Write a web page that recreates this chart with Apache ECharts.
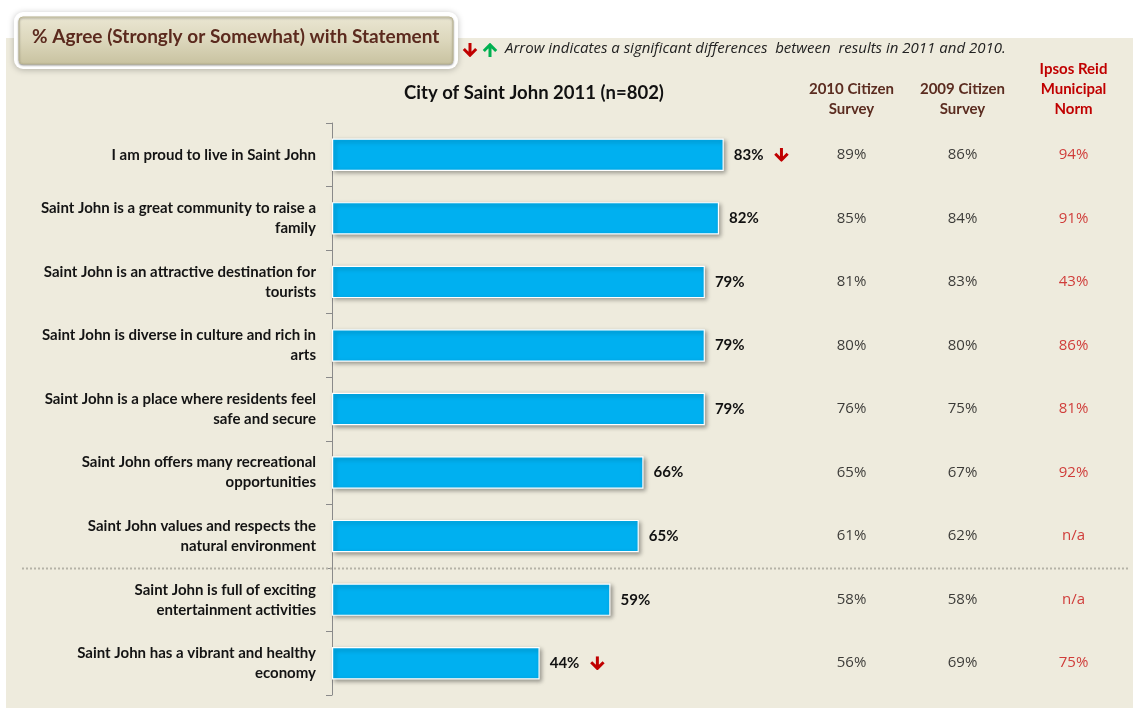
<!DOCTYPE html>
<html>
<head>
<meta charset="utf-8">
<script src="https://cdn.jsdelivr.net/npm/echarts@6/dist/echarts.min.js"></script>
<style>
  html, body { margin: 0; padding: 0; background: #ffffff; }
  #chart { width: 1133px; height: 712px; }
</style>
</head>
<body>
<div id="chart"></div>
<script>
// Survey statements (wrapped as they are shown on the axis)
const statements = [
  'I am proud to live in Saint John',
  'Saint John is a great community to raise a\nfamily',
  'Saint John is an attractive destination for\ntourists',
  'Saint John is diverse in culture and rich in\narts',
  'Saint John is a place where residents feel\nsafe and secure',
  'Saint John offers many recreational\nopportunities',
  'Saint John values and respects the\nnatural environment',
  'Saint John is full of exciting\nentertainment activities',
  'Saint John has a vibrant and healthy\neconomy'
];
// 2011 results (% agree) and significance flags vs 2010
const agree2011 = [83, 82, 79, 79, 79, 66, 65, 59, 44];
const change2011 = ['down', '', '', '', '', '', '', '', 'down'];
// Comparison columns
const survey2010 = ['89%', '85%', '81%', '80%', '76%', '65%', '61%', '58%', '56%'];
const survey2009 = ['86%', '84%', '83%', '80%', '75%', '67%', '62%', '58%', '69%'];
const municipalNorm = ['94%', '91%', '43%', '86%', '81%', '92%', 'n/a', 'n/a', '75%'];
const tableColumns = ['2010 Citizen\nSurvey', '2009 Citizen\nSurvey', 'Ipsos Reid\nMunicipal\nNorm'];
const tableColors = ['#0d0d0d', '#0d0d0d', '#C81010'];
const headerColors = ['#5B2C20', '#5B2C20', '#C00000'];
const separatorAfter = 6; // dotted rule drawn below this row

const FONT = 'Lato, "Open Sans", sans-serif';

// arrow glyphs used to flag significant changes
function arrowIcon(color, up) {
  const d = up ? 'M8 14 V2 M1.8 8 L8 1.8 L14.2 8' : 'M8 0 V12 M1.8 6 L8 12.2 L14.2 6';
  const svg = '<svg xmlns="http://www.w3.org/2000/svg" width="16" height="14" viewBox="0 0 16 14">' +
    '<path d="' + d + '" fill="none" stroke="' + color + '" stroke-width="3" stroke-linejoin="miter"/></svg>';
  return 'data:image/svg+xml;charset=utf-8,' + encodeURIComponent(svg);
}
const downRed = arrowIcon('#C00000', false);
const upGreen = arrowIcon('#00B050', true);

const chart = echarts.init(document.getElementById('chart'), null, { renderer: 'canvas' });

const tableColumnsData = [survey2010, survey2009, municipalNorm];
const tableSeries = tableColumnsData.map((col, c) => ({
  type: 'scatter',
  xAxisIndex: 1,
  yAxisIndex: 1,
  symbolSize: 0,
  silent: true,
  data: col.map((txt, r) => [c, r, txt]),
  label: {
    show: true,
    position: 'inside',
    formatter: p => p.value[2],
    fontFamily: '"Open Sans", sans-serif',
    fontSize: 15,
    color: tableColors[c]
  },
  z: 5
}));

const option = {
  backgroundColor: '#ffffff',
  animation: false,
  title: {
    text: 'City of Saint John 2011 (n=802)',
    left: 529,
    top: 79,
    textAlign: 'center',
    textStyle: { fontFamily: FONT, fontWeight: 'bold', fontSize: 18.5, color: '#111' }
  },
  graphic: [
    // beige panel
    { type: 'rect', z: -10, silent: true, shape: { x: 6, y: 38, width: 1127, height: 670 },
      style: { fill: '#EEEBDD' } },
    // title badge
    { type: 'rect', z: 10, silent: true, shape: { x: 14, y: 12, width: 444, height: 57, r: 9 },
      style: { fill: '#ffffff', shadowBlur: 6, shadowColor: 'rgba(0,0,0,0.25)', shadowOffsetY: 1 } },
    { type: 'rect', z: 11, silent: true, shape: { x: 19, y: 17, width: 434, height: 47, r: 4 },
      style: {
        fill: new echarts.graphic.LinearGradient(0, 0, 0, 1, [
          { offset: 0, color: '#EAE6D2' },
          { offset: 0.5, color: '#DCD7BC' },
          { offset: 1, color: '#C8C2A0' }
        ]),
        stroke: '#BDB793', lineWidth: 1,
        shadowBlur: 2, shadowColor: 'rgba(0,0,0,0.35)', shadowOffsetY: 1
      } },
    { type: 'text', z: 12, silent: true, left: 32, top: 27,
      style: { text: '% Agree (Strongly or Somewhat) with Statement', fontFamily: FONT,
        fontWeight: 'bold', fontSize: 19, fill: '#5B2A1E' } },
    // significance note
    { type: 'image', z: 12, silent: true, style: { image: downRed, x: 462, y: 43, width: 16, height: 14 } },
    { type: 'image', z: 12, silent: true, style: { image: upGreen, x: 482, y: 43, width: 16, height: 14 } },
    { type: 'text', z: 12, silent: true, left: 505, top: 41,
      style: { text: 'Arrow indicates a significant differences  between  results in 2011 and 2010.',
        fontFamily: '"Open Sans", sans-serif', fontStyle: 'italic', fontSize: 15, fill: '#222' } }
  ],
  grid: [
    { left: 332, top: 123, width: 472, bottom: 17 },
    { left: 796, top: 123, right: 4, bottom: 17 }
  ],
  xAxis: [
    { type: 'value', gridIndex: 0, min: 0, max: 100, show: false },
    { type: 'category', gridIndex: 1, position: 'top', data: tableColumns,
      axisLine: { show: false }, axisTick: { show: false }, splitLine: { show: false },
      axisLabel: {
        interval: 0, margin: 4, fontFamily: FONT, fontWeight: 'bold', fontSize: 15, lineHeight: 20,
        color: (v, i) => headerColors[i]
      } }
  ],
  yAxis: [
    { type: 'category', gridIndex: 0, inverse: true, data: statements,
      axisLine: { show: true, lineStyle: { color: '#8a8a8a', width: 1 } },
      axisTick: { show: true, length: 6, lineStyle: { color: '#8a8a8a' } },
      axisLabel: { interval: 0, margin: 16, align: 'right', fontFamily: FONT, fontWeight: 'bold',
        fontSize: 15, lineHeight: 20, color: '#141414' } },
    { type: 'category', gridIndex: 1, inverse: true, data: statements, show: false }
  ],
  series: [
    {
      type: 'bar',
      xAxisIndex: 0, yAxisIndex: 0,
      data: agree2011,
      barWidth: '51%',
      itemStyle: {
        color: '#00B0F0', borderColor: '#ffffff', borderWidth: 1.2,
        shadowBlur: 4, shadowColor: 'rgba(0,0,0,0.35)', shadowOffsetX: 2, shadowOffsetY: 2
      },
      label: {
        show: true, position: 'right', distance: 10,
        formatter: p => '{v|' + p.value + '%}' +
          (change2011[p.dataIndex] === 'down' ? '{gap| }{dn| }' : ''),
        rich: {
          v: { fontFamily: FONT, fontWeight: 'bold', fontSize: 15, color: '#111' },
          gap: { width: 10, fontSize: 10 },
          dn: { width: 16, height: 14, backgroundColor: { image: downRed } }
        }
      },
      z: 3
    },
    ...tableSeries
  ]
};

chart.setOption(option);

// dotted rule between the two groups of statements, placed from the axis scale
const yA = chart.convertToPixel({ gridIndex: 0 }, [0, separatorAfter])[1];
const yB = chart.convertToPixel({ gridIndex: 0 }, [0, separatorAfter + 1])[1];
const ySep = Math.round((yA + yB) / 2) + 0.5;
chart.setOption({
  graphic: option.graphic.concat([
    { type: 'line', z: 1, silent: true, shape: { x1: 22, y1: ySep, x2: 1130, y2: ySep },
      style: { stroke: '#B5B3A8', lineWidth: 2, lineDash: [2, 2] } }
  ])
});
</script>
</body>
</html>
